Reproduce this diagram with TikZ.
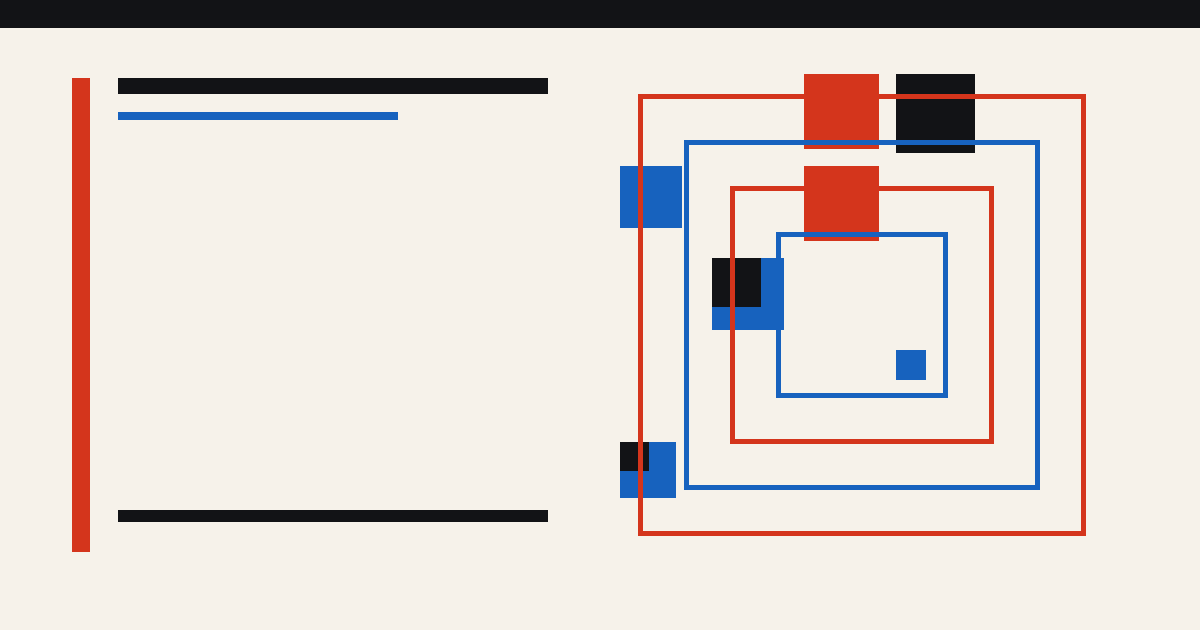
\documentclass[tikz,border=0pt]{standalone}
\definecolor{bg}{HTML}{F6F2EA}
\definecolor{ink}{HTML}{121316}
\definecolor{rd}{HTML}{D4351C}
\definecolor{bl}{HTML}{1762BE}
\tikzset{
  frame/.style={draw=#1, line width=5pt, fill=none},
  block/.style={fill=#1, draw=none}
}
\begin{document}
\begin{tikzpicture}[x=1pt,y=-1pt]
\useasboundingbox (0,0) rectangle (1200,630);
\fill[bg] (0,0) rectangle (1200,630);
\fill[ink] (0,0) rectangle (1200,28);
% left panel
\path[block=rd] (72,78) rectangle (90,552);
\path[block=ink] (118,78) rectangle (548,94);
\path[block=bl] (118,112) rectangle (398,120);
\path[block=ink] (118,510) rectangle (548,522);
% blocks
\path[block=rd] (804,74) rectangle (879,149);
\path[block=ink] (896,74) rectangle (975,153);
\path[block=bl] (620,166) rectangle (682,228);
\path[block=rd] (804,166) rectangle (879,241);
\path[block=bl] (712,258) rectangle (784,330);
\path[block=ink] (712,258) rectangle (761,307);
\path[block=bl] (896,350) rectangle (926,380);
\path[block=bl] (620,442) rectangle (676,498);
\path[block=ink] (620,442) rectangle (649,471);
% nested frames
\draw[frame=rd] (640.5,96.5) rectangle (1083.5,533.5);
\draw[frame=bl] (686.5,142.5) rectangle (1037.5,487.5);
\draw[frame=rd] (732.5,188.5) rectangle (991.5,441.5);
\draw[frame=bl] (778.5,234.5) rectangle (945.5,395.5);
\end{tikzpicture}
\end{document}
